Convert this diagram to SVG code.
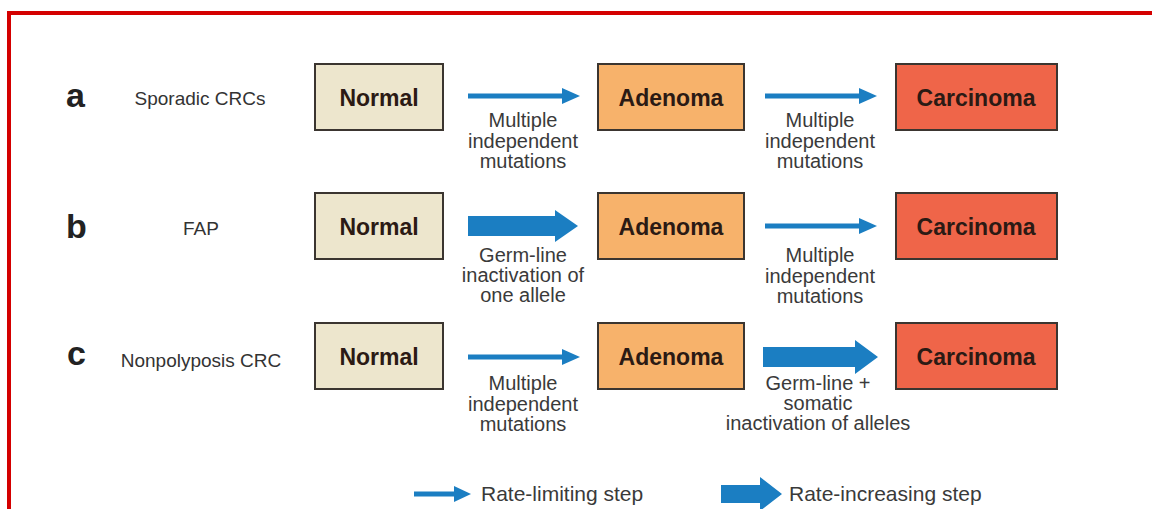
<svg xmlns="http://www.w3.org/2000/svg" width="1152" height="509" viewBox="0 0 1152 509">
<style>
.box{stroke:#3b3530;stroke-width:2}
.normal{fill:#ede6cd}
.aden{fill:#f7b26b}
.carc{fill:#ef6549}
.bt{font-family:"Liberation Sans",Arial,sans-serif;font-weight:bold;font-size:23px;fill:#2b1a14;text-anchor:middle}
.lt{font-family:"Liberation Sans",Arial,sans-serif;font-size:20px;fill:#3a3a3a;text-anchor:middle}
.lg{font-family:"Liberation Sans",Arial,sans-serif;font-size:21px;fill:#3a3a3a}
.rl{font-family:"Liberation Sans",Arial,sans-serif;font-size:19px;fill:#333;text-anchor:middle}
.let{font-family:"Liberation Sans",Arial,sans-serif;font-weight:bold;font-size:34px;fill:#222}
.thin{stroke:#1b7ec2;stroke-width:5;fill:none}
.head{fill:#1b7ec2}
</style>
<rect x="0" y="0" width="1152" height="509" fill="#ffffff"/>
<path d="M9 509 V13 H1152" fill="none" stroke="#d40000" stroke-width="4"/>

<g id="row-labels">
<text class="let" x="66" y="107">a</text>
<text class="rl" x="200" y="105">Sporadic CRCs</text>
<text class="let" x="66" y="238">b</text>
<text class="rl" x="201" y="235">FAP</text>
<text class="let" x="67" y="365">c</text>
<text class="rl" x="201" y="367">Nonpolyposis CRC</text>
</g>

<g id="node-a-normal"><rect class="box normal" x="315" y="64" width="128" height="66"/><text class="bt" x="379" y="106">Normal</text></g>
<g id="node-a-adenoma"><rect class="box aden" x="598" y="64" width="146" height="66"/><text class="bt" x="671" y="106">Adenoma</text></g>
<g id="node-a-carcinoma"><rect class="box carc" x="896" y="64" width="161" height="66"/><text class="bt" x="976" y="106">Carcinoma</text></g>

<g id="node-b-normal"><rect class="box normal" x="315" y="193" width="128" height="66"/><text class="bt" x="379" y="235">Normal</text></g>
<g id="node-b-adenoma"><rect class="box aden" x="598" y="193" width="146" height="66"/><text class="bt" x="671" y="235">Adenoma</text></g>
<g id="node-b-carcinoma"><rect class="box carc" x="896" y="193" width="161" height="66"/><text class="bt" x="976" y="235">Carcinoma</text></g>

<g id="node-c-normal"><rect class="box normal" x="315" y="323" width="128" height="66"/><text class="bt" x="379" y="365">Normal</text></g>
<g id="node-c-adenoma"><rect class="box aden" x="598" y="323" width="146" height="66"/><text class="bt" x="671" y="365">Adenoma</text></g>
<g id="node-c-carcinoma"><rect class="box carc" x="896" y="323" width="161" height="66"/><text class="bt" x="976" y="365">Carcinoma</text></g>

<g id="connectors">
<line class="thin" x1="468" y1="96" x2="565" y2="96"/><polygon class="head" points="562,88 580,96 562,104"/>
<line class="thin" x1="765" y1="96" x2="862" y2="96"/><polygon class="head" points="859,88 877,96 859,104"/>
<polygon class="head" points="468,216 555,216 555,210 578,226 555,242 555,236 468,236"/>
<line class="thin" x1="765" y1="226" x2="862" y2="226"/><polygon class="head" points="859,218 877,226 859,234"/>
<line class="thin" x1="468" y1="357" x2="565" y2="357"/><polygon class="head" points="562,349 580,357 562,365"/>
<polygon class="head" points="763,347 855,347 855,340 878,357 855,374 855,367 763,367"/>
</g>

<g id="connector-labels">
<text class="lt" x="523" y="127">Multiple</text>
<text class="lt" x="523" y="148">independent</text>
<text class="lt" x="523" y="168">mutations</text>
<text class="lt" x="820" y="127">Multiple</text>
<text class="lt" x="820" y="148">independent</text>
<text class="lt" x="820" y="168">mutations</text>

<text class="lt" x="523" y="262">Germ-line</text>
<text class="lt" x="523" y="282">inactivation of</text>
<text class="lt" x="523" y="302">one allele</text>
<text class="lt" x="820" y="262">Multiple</text>
<text class="lt" x="820" y="283">independent</text>
<text class="lt" x="820" y="303">mutations</text>

<text class="lt" x="523" y="390">Multiple</text>
<text class="lt" x="523" y="411">independent</text>
<text class="lt" x="523" y="431">mutations</text>
<text class="lt" x="818" y="390">Germ-line +</text>
<text class="lt" x="818" y="410">somatic</text>
<text class="lt" x="818" y="430">inactivation of alleles</text>
</g>

<g id="legend">
<line class="thin" x1="414" y1="494" x2="456" y2="494"/><polygon class="head" points="454,486 471,494 454,502"/>
<text class="lg" x="481" y="501">Rate-limiting step</text>
<polygon class="head" points="721,485 760,485 760,477 782,494 760,511 760,503 721,503"/>
<text class="lg" x="789" y="501">Rate-increasing step</text>
</g>
</svg>
